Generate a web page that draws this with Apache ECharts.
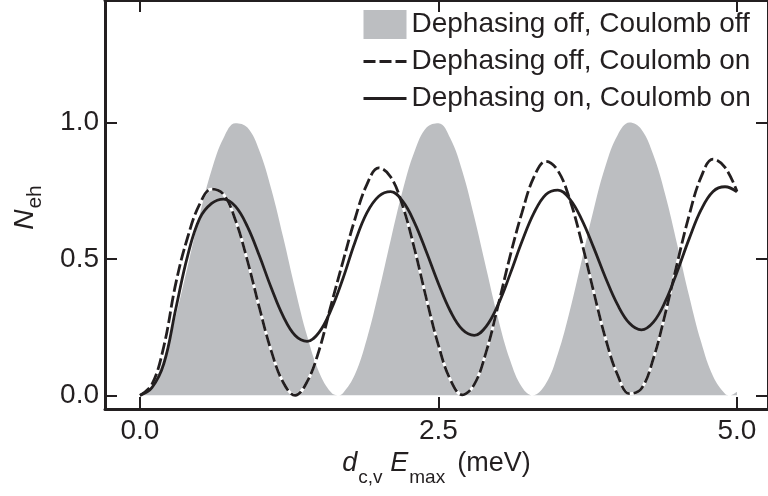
<!DOCTYPE html>
<html>
<head>
<meta charset="utf-8">
<script src="https://cdn.jsdelivr.net/npm/echarts@6/dist/echarts.min.js"></script>
<style>
  html, body { margin: 0; padding: 0; background: #ffffff; }
  #chart { width: 768px; height: 496px; }
</style>
</head>
<body>
<div id="chart"></div>
<script>
// Electron-hole pair number N_eh versus pulse area d_cv*E_max (meV)

// Reference case: no dephasing, no Coulomb coupling (filled)
const bareEnergy = [0.0, 0.1, 0.2, 0.3, 0.4, 0.5, 0.6, 0.7, 0.8, 0.9,
                    1.0, 1.1, 1.2, 1.3, 1.4, 1.5, 1.6, 1.655, 1.7, 1.8, 1.9,
                    2.0, 2.1, 2.2, 2.3, 2.4, 2.5, 2.6, 2.7, 2.8, 2.9,
                    3.0, 3.1, 3.2, 3.29, 3.4, 3.5, 3.6, 3.7, 3.8, 3.9,
                    4.0, 4.1, 4.2, 4.3, 4.4, 4.5, 4.6, 4.7, 4.8, 4.9, 4.94, 5.0];
const bareN = [0.000, 0.036, 0.137, 0.291, 0.474, 0.661, 0.825, 0.943, 0.997, 0.981,
               0.896, 0.755, 0.578, 0.389, 0.217, 0.085, 0.011, 0.000, 0.008, 0.076, 0.206,
               0.379, 0.569, 0.750, 0.894, 0.981, 0.997, 0.941, 0.821, 0.653, 0.465,
               0.281, 0.129, 0.030, 0.000, 0.043, 0.152, 0.310, 0.495, 0.681, 0.842,
               0.953, 0.999, 0.974, 0.880, 0.734, 0.552, 0.363, 0.195, 0.070, 0.006, 0.000, 0.013];

// Common energy grid for the Coulomb-coupled curves
const energy = [0.0, 0.1, 0.2, 0.3, 0.4, 0.5, 0.6, 0.7, 0.8, 0.9,
                1.0, 1.1, 1.2, 1.3, 1.4, 1.5, 1.6, 1.7, 1.8, 1.9,
                2.0, 2.1, 2.2, 2.3, 2.4, 2.5, 2.6, 2.7, 2.8, 2.9,
                3.0, 3.1, 3.2, 3.3, 3.4, 3.5, 3.6, 3.7, 3.8, 3.9,
                4.0, 4.1, 4.2, 4.3, 4.4, 4.5, 4.6, 4.7, 4.8, 4.9, 5.0];

// Dephasing off, Coulomb on (dashed)
const coulombN = [0.000, 0.040, 0.180, 0.410, 0.580, 0.700, 0.755, 0.736, 0.641, 0.493,
                  0.321, 0.162, 0.047, 0.000, 0.050, 0.165, 0.330, 0.490, 0.645, 0.772,
                  0.833, 0.800, 0.694, 0.535, 0.352, 0.183, 0.057, 0.002, 0.040, 0.160,
                  0.330, 0.510, 0.670, 0.800, 0.857, 0.823, 0.717, 0.560, 0.379, 0.207,
                  0.075, 0.006, 0.025, 0.135, 0.300, 0.485, 0.660, 0.800, 0.865, 0.835, 0.747];

// Dephasing on, Coulomb on (solid)
const dephasedN = [0.000, 0.028, 0.116, 0.317, 0.513, 0.648, 0.703, 0.719, 0.692, 0.618,
                   0.511, 0.393, 0.289, 0.219, 0.198, 0.231, 0.313, 0.428, 0.560, 0.668,
                   0.729, 0.746, 0.711, 0.632, 0.524, 0.409, 0.308, 0.241, 0.220, 0.253,
                   0.333, 0.444, 0.564, 0.668, 0.736, 0.752, 0.719, 0.644, 0.541, 0.430,
                   0.332, 0.264, 0.240, 0.268, 0.344, 0.454, 0.574, 0.680, 0.747, 0.764, 0.745];

const xTicks = [0, 2.5, 5];
const yTicks = [0, 0.5, 1];

const seriesNames = [
  'Dephasing off, Coulomb off',
  'Dephasing off, Coulomb on',
  'Dephasing on, Coulomb on'
];

const FONT = '"Liberation Sans", Arial, Helvetica, sans-serif';
const INK = '#231f20';
const FILL = '#bcbec1';
const DASH = [12, 4];

const pairs = (xs, ys) => xs.map((x, i) => [x, ys[i]]);

// rich styles for the axis titles (italic symbols with lowered subscripts)
const xTitleRich = {
  i: { fontFamily: FONT, fontSize: 27, fontStyle: 'italic', color: INK, lineHeight: 28, verticalAlign: 'top' },
  r: { fontFamily: FONT, fontSize: 27, color: INK, lineHeight: 28, verticalAlign: 'top', padding: [0, 0, 0, 12] },
  g: { fontFamily: FONT, fontSize: 6, color: INK, lineHeight: 6, verticalAlign: 'top', padding: [0, 0, 0, 6] },
  s: { fontFamily: FONT, fontSize: 19, color: INK, lineHeight: 19, verticalAlign: 'top', padding: [18, 0, 0, 1] }
};
const yTitleRich = {
  i: { fontFamily: FONT, fontSize: 28, fontStyle: 'italic', color: INK, lineHeight: 28, verticalAlign: 'top' },
  s: { fontFamily: FONT, fontSize: 21, color: INK, lineHeight: 21, verticalAlign: 'top', padding: [14, 0, 0, 1] }
};

const frameAxis = {
  axisLine: { onZero: false, lineStyle: { color: INK, width: 3 } },
  axisTick: { inside: true, length: 12, lineStyle: { color: INK, width: 2 } },
  splitLine: { show: false }
};

const chart = echarts.init(document.getElementById('chart'), null, { renderer: 'canvas' });

chart.setOption({
  animation: false,
  backgroundColor: '#ffffff',
  grid: { left: 105, right: 0, top: 0, bottom: 87 },
  legend: {
    orient: 'vertical',
    left: 362,
    top: 10,
    padding: 0,
    itemWidth: 43,
    itemHeight: 29,
    itemGap: 8,
    selectedMode: false,
    textStyle: { fontFamily: FONT, fontSize: 28, color: INK, lineHeight: 29 },
    data: [
      { name: seriesNames[0], icon: 'rect' },
      { name: seriesNames[1], itemStyle: { opacity: 0 }, lineStyle: { width: 3, type: DASH, color: INK } },
      { name: seriesNames[2], itemStyle: { opacity: 0 }, lineStyle: { width: 3, type: 'solid', color: INK } }
    ]
  },
  xAxis: [
    Object.assign({}, frameAxis, {
      type: 'value',
      position: 'bottom',
      min: -0.293,
      max: 5.26,
      axisTick: Object.assign({}, frameAxis.axisTick, { customValues: xTicks }),
      axisLabel: {
        customValues: xTicks,
        formatter: v => v.toFixed(1),
        fontFamily: FONT, fontSize: 28, color: INK, margin: 8
      },
      name: '{i|d}{s|c,v}{g| }{i|E}{s|max}{r|(meV)}',
      nameLocation: 'middle',
      nameGap: 29,
      nameTextStyle: { rich: xTitleRich }
    }),
    Object.assign({}, frameAxis, {
      type: 'value',
      position: 'top',
      min: -0.293,
      max: 5.26,
      axisTick: Object.assign({}, frameAxis.axisTick, { customValues: xTicks }),
      axisLabel: { show: false }
    })
  ],
  yAxis: [
    Object.assign({}, frameAxis, {
      type: 'value',
      position: 'left',
      min: -0.05,
      max: 1.448,
      axisTick: Object.assign({}, frameAxis.axisTick, { customValues: yTicks }),
      axisLabel: {
        customValues: yTicks,
        formatter: v => v.toFixed(1),
        fontFamily: FONT, fontSize: 28, color: INK, margin: 6
      },
      name: '{i|N}{s|eh}',
      nameLocation: 'middle',
      nameRotate: 90,
      nameGap: 66,
      nameTextStyle: { rich: yTitleRich, padding: [0, 6, 0, 0] }
    }),
    Object.assign({}, frameAxis, {
      type: 'value',
      position: 'right',
      min: -0.05,
      max: 1.448,
      axisTick: Object.assign({}, frameAxis.axisTick, { customValues: yTicks }),
      axisLabel: { show: false }
    })
  ],
  series: [
    {
      name: seriesNames[0],
      type: 'line',
      data: pairs(bareEnergy, bareN),
      smooth: 0.4,
      symbol: 'none',
      color: FILL,
      lineStyle: { width: 0, color: FILL },
      areaStyle: { color: FILL, opacity: 1 },
      z: 1
    },
    {
      // white core under the dashes so the gaps read as white
      name: 'coulomb-underlay',
      type: 'line',
      data: pairs(energy, coulombN),
      smooth: 0.4,
      symbol: 'none',
      color: '#ffffff',
      lineStyle: { width: 2.8, color: '#ffffff' },
      z: 2
    },
    {
      name: seriesNames[1],
      type: 'line',
      data: pairs(energy, coulombN),
      smooth: 0.4,
      symbol: 'none',
      color: INK,
      lineStyle: { width: 2.8, color: INK, type: DASH },
      z: 3
    },
    {
      name: seriesNames[2],
      type: 'line',
      data: pairs(energy, dephasedN),
      smooth: 0.4,
      symbol: 'none',
      color: INK,
      lineStyle: { width: 2.8, color: INK },
      z: 4
    }
  ]
});
</script>
</body>
</html>
